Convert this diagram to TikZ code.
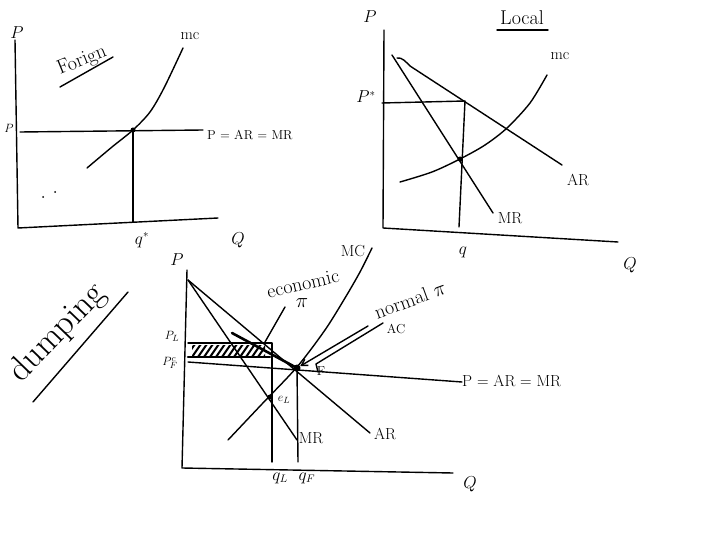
\documentclass[tikz,border=0pt]{standalone}
\usetikzlibrary{arrows.meta}
\begin{document}
\begin{tikzpicture}[x=1pt,y=-1pt,
  ln/.style={line width=1.4pt,line cap=round,line join=round},
  thick2/.style={line width=2.6pt,line cap=round},
  lbl/.style={inner sep=0pt,font=\fontsize{16}{18}\selectfont},
  sml/.style={inner sep=0pt,font=\fontsize{13}{15}\selectfont},
  big/.style={inner sep=0pt,font=\fontsize{20}{22}\selectfont},
  dotf/.style={circle,fill=black,inner sep=0pt,minimum size=5pt}]
\useasboundingbox (0,0) rectangle (720,540);
\fill[white] (0,0) rectangle (720,540);

% ---------------- Foreign ----------------
\coordinate (fTop) at (15,40);
\coordinate (fO) at (18,228);
\coordinate (fX) at (218,218);
\draw[ln] (fTop) -- (fO) -- (fX);
\coordinate (fPl) at (20,132);
\coordinate (fPr) at (203,130);
\draw[ln] (fPl) -- (fPr);
\node[dotf] (fE) at (133,130) {};
\coordinate (fQ) at (133,222);
\draw[ln] (fE.center) -- (fQ);
\draw[ln] plot[smooth] coordinates {(87,168) (112,147) (133,130) (150,112) (164,88) (183,48)};
\node[lbl] (fP) at (17,33) {$P$};
\node[sml] (fPs) at (9,128) {$P$};
\node[lbl] (fmc) at (190,36) {mc};
\node[big,rotate=22] (forign) at (82,61) {Forign};
\coordinate (fu1) at (60,87);
\coordinate (fu2) at (113,57);
\draw[ln] (fu1) -- (fu2);
\node[sml,anchor=west] (fPAR) at (207,135) {P = AR = MR};
\node[lbl] (fqs) at (142,240) {$q^*$};
\node[lbl] (fQl) at (238,240) {$Q$};
\fill (43,197) circle (1pt);
\fill (55,192) circle (1pt);

% ---------------- Local ----------------
\coordinate (lTop) at (384,30);
\coordinate (lO) at (383,228);
\coordinate (lX) at (618,242);
\draw[ln] (lTop) -- (lO) -- (lX);
\coordinate (lARs) at (397,58);
\coordinate (lARw) at (410,66);
\coordinate (lARe) at (562,165);
\draw[ln] (lARs) .. controls (402,57) and (406,62) .. (lARw) -- (lARe);
\coordinate (lMRs) at (392,55);
\coordinate (lMRe) at (493,213);
\draw[ln] (lMRs) -- (lMRe);
\draw[ln] plot[smooth] coordinates {(400,182) (432,172) (460,159) (485,145) (507,128) (530,103) (547,75)};
\coordinate (lPl) at (382,103);
\coordinate (lPr) at (465,101);
\coordinate (lQ) at (459,227);
\draw[ln] (lPl) -- (lPr) -- (lQ);
\node[dotf] (lE) at (460,159) {};
\node[lbl] (lP) at (370,17) {$P$};
\node[lbl] (lPs) at (366,97) {$P^*$};
\node[big] (local) at (522,18) {Local};
\coordinate (lu1) at (497,30);
\coordinate (lu2) at (548,30);
\draw[ln] (lu1) -- (lu2);
\node[lbl] (lmc) at (560,56) {mc};
\node[lbl] (lAR) at (578,180) {AR};
\node[lbl] (lMR) at (510,218) {MR};
\node[lbl] (lq) at (463,252) {$q$};
\node[lbl] (lQl) at (630,265) {$Q$};

% ---------------- Dumping ----------------
\node[inner sep=0pt,font=\fontsize{35}{37}\selectfont,rotate=46] (dump) at (58,333) {dumping};
\coordinate (du1) at (33,402);
\coordinate (du2) at (128,292);
\draw[ln] (du1) -- (du2);

\coordinate (bTop) at (187,270);
\coordinate (bO) at (182,468);
\coordinate (bX) at (453,473);
\draw[ln] (bTop) -- (bO) -- (bX);
\coordinate (bD) at (188,280);
\coordinate (bARe) at (370,433);
\coordinate (bMRe) at (297,440);
\draw[ln] (bD) -- (bARe);
\draw[ln] (bD) -- (bMRe);
\coordinate (bHl) at (188,362);
\coordinate (bHr) at (462,382);
\draw[ln] (bHl) -- (bHr);
\draw[ln] plot[smooth] coordinates {(228,440) (262,404) (297,367) (325,330) (345,298) (360,272) (372,248)};
% hatched area
\coordinate (hTL) at (188,343);
\coordinate (hTR) at (272,343);
\coordinate (hBR) at (270,357);
\coordinate (hBot) at (272,462);
\draw[ln] (hTL) -- (hTR) -- (hBot);
\draw[thick2] (188,357) -- (hBR);
\begin{scope}
  \clip (192,345) rectangle (265,356);
  \foreach \x in {186,192,...,270} {\draw[line width=2pt] (\x,357) -- (\x+9,344);}
\end{scope}
\node[dotf,minimum size=7pt] (bE) at (297,368) {};
\coordinate (bQF) at (298,462);
\draw[ln] (bE.center) -- (bQF);
\node[dotf] (bL) at (270,397) {};
% AC
\coordinate (acL) at (232,333);
\draw[thick2] (acL) -- (bE.center);
\coordinate (acR) at (383,323);
\coordinate (acR2) at (316,364);
\draw[ln] (acR) -- (acR2) -- (318,372);
% normal profit arrow
\coordinate (npS) at (368,326);
\draw[ln,-{Straight Barb[length=6pt,width=7pt]}] (npS) -- (bE);
% economic profit pointer
\coordinate (epS) at (285,307);
\coordinate (epE) at (265,342);
\draw[ln] (epS) -- (epE);
% labels
\node[lbl] (bP) at (177,260) {$P$};
\node[sml] (bPL) at (172,336) {$P_L$};
\node[sml] (bPF) at (170,363) {$P_F^c$};
\node[lbl] (bmc) at (353,251) {MC};
\node[big,rotate=13] (econ) at (303,284) {economic};
\node[big] (pi1) at (302,303) {$\pi$};
\node[big,rotate=20] (norm) at (410,300) {normal $\pi$};
\node[sml] (bAC) at (396,329) {AC};
\node[sml] (beL) at (284,400) {$e_L$};
\node[sml] (beF) at (321,371) {F};
\node[lbl] (bAR) at (385,434) {AR};
\node[lbl] (bMR) at (311,438) {MR};
\node[lbl,anchor=west] (bPAR) at (462,381) {P = AR = MR};
\node[lbl] (bqL) at (280,478) {$q_L$};
\node[lbl] (bqF) at (307,478) {$q_F$};
\node[lbl] (bQl) at (470,484) {$Q$};
\end{tikzpicture}
\end{document}
